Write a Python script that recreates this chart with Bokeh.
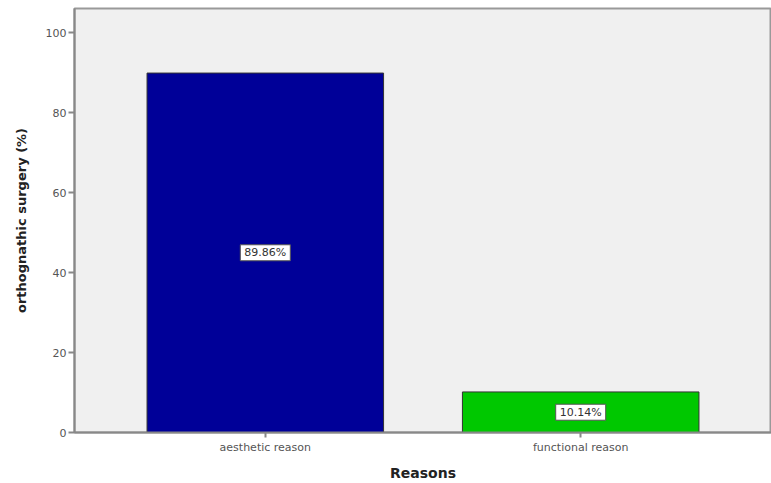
from bokeh.plotting import figure
from bokeh.models import ColumnDataSource, FactorRange, Range1d, FixedTicker
from bokeh.core.properties import value
from bokeh.embed import file_html
from bokeh.resources import INLINE

categories = ["aesthetic reason", "functional reason"]
values = [89.86, 10.14]
colors = ["#000098", "#00C800"]
labels = [f"{v:.2f}%" for v in values]
y_ticks = [0, 20, 40, 60, 80, 100]

src = ColumnDataSource(dict(cat=categories, val=values, color=colors,
                            half=[v / 2 for v in values], lab=labels))

p = figure(width=771, height=483, output_backend="svg", toolbar_location=None,
           x_range=FactorRange(*categories, range_padding=0.105),
           y_range=Range1d(0, 106))
p.min_border_left = 74
p.min_border_right = 0
p.min_border_top = 8
p.min_border_bottom = 50
p.background_fill_color = "#F0F0F0"
p.border_fill_color = "white"
p.outline_line_color = "#999999"
p.outline_line_width = 2
p.grid.visible = False

p.vbar(x="cat", top="val", width=0.75, source=src, fill_color="color",
       line_color="#333333", line_width=1)

# value label boxes
p.rect(x="cat", y="half", width=50, height=16, width_units="screen",
       height_units="screen", source=src, fill_color="white",
       line_color="#555555", line_width=1)
p.text(x="cat", y="half", text="lab", source=src, text_align="center",
       text_baseline="middle", text_font_size="11px",
       text_font=value("DejaVu Sans"), text_color="#333333")

p.yaxis.ticker = FixedTicker(ticks=y_ticks)
p.yaxis.minor_tick_line_color = None
p.yaxis.major_tick_out = 6
p.yaxis.major_tick_in = 0
p.xaxis.major_tick_out = 5
p.xaxis.major_tick_in = 0
for ax in (p.xaxis, p.yaxis):
    ax.axis_line_color = "#888888"
    ax.axis_line_width = 2
    ax.major_tick_line_color = "#888888"
    ax.major_tick_line_width = 2
    ax.major_label_text_font = "DejaVu Sans"
    ax.major_label_text_font_size = "11px"
    ax.major_label_text_color = "#555555"
    ax.axis_label_text_font = "DejaVu Sans"
    ax.axis_label_text_font_style = "bold"
    ax.axis_label_text_color = "#222222"
p.xaxis.major_label_standoff = 3
p.yaxis.major_label_standoff = 2
p.xaxis.axis_label = "Reasons"
p.xaxis.axis_label_text_font_size = "14px"
p.xaxis.axis_label_standoff = 8
p.yaxis.axis_label = "orthognathic surgery (%)"
p.yaxis.axis_label_text_font_size = "13px"
p.yaxis.axis_label_standoff = 14

open("out.html", "w").write(file_html(p, INLINE))
